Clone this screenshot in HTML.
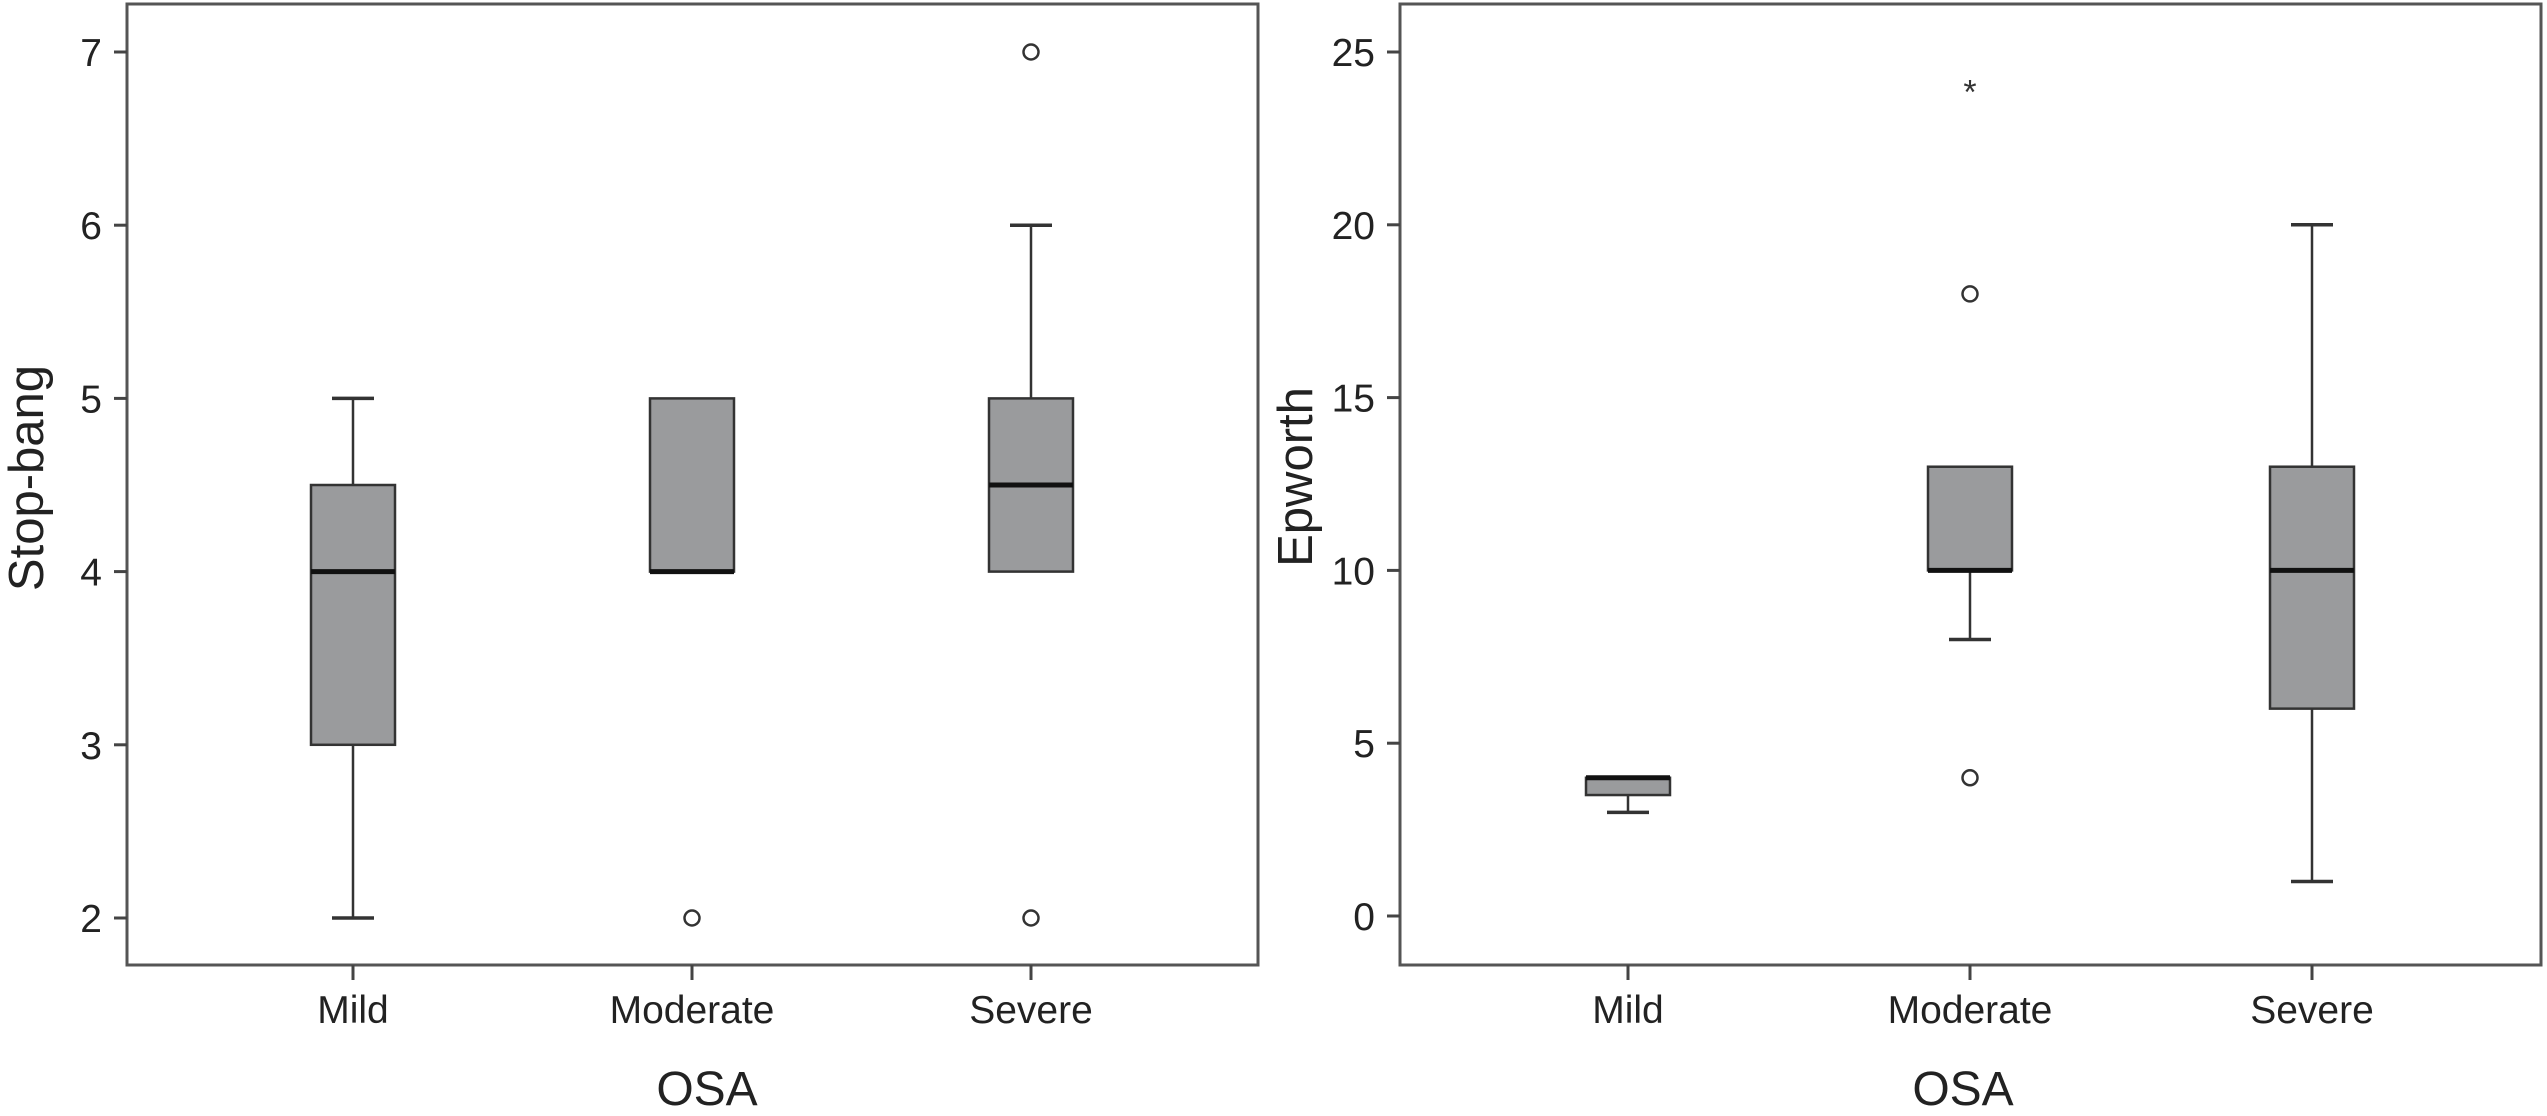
<!DOCTYPE html>
<html><head><meta charset="utf-8"><style>
html,body{margin:0;padding:0;background:#fff;}
svg{display:block;font-family:"Liberation Sans",Arial,sans-serif;}
</style></head><body>
<svg id="chart" width="2547" height="1116" viewBox="0 0 2547 1116" xmlns="http://www.w3.org/2000/svg"></svg>
<script>
const categories = ["Mild","Moderate","Severe"];
// Stop-bang: [min, q1, median, q3, max]
const stopBangStats = [[2,3,4,4.5,5],[4,4,4,5,5],[4,4,4.5,5,6]];
const stopBangOutliers = [[],[2],[7,2]];
const stopBangExtremes = [[],[],[]];
const stopBangTicks = [2,3,4,5,6,7];
// Epworth
const epworthStats = [[3,3.5,4,4,4],[8,10,10,13,13],[1,6,10,13,20]];
const epworthOutliers = [[],[18,4],[]];
const epworthExtremes = [[],[24],[]];
const epworthTicks = [0,5,10,15,20,25];

const svg = document.getElementById('chart');
const NS = "http://www.w3.org/2000/svg";
function mk(tag, attrs, parent){
  const e = document.createElementNS(NS, tag);
  for (const k in attrs) e.setAttribute(k, attrs[k]);
  (parent||svg).appendChild(e);
  return e;
}

function panel(cfg){
  const g = mk('g', {});
  
  
  const y = v => cfg.y0 + (v - cfg.v0) * (cfg.y1 - cfg.y0) / (cfg.v1 - cfg.v0);
  const x = i => cfg.cx0 + i * cfg.step;
  const frame = mk('rect', {x:cfg.left, y:4, width:cfg.right-cfg.left, height:961, fill:'none', stroke:'#555', 'stroke-width':3}, g);
  
  
  cfg.ticks.forEach(t => {
    const tk = mk('line', {x1:cfg.left-13, x2:cfg.left, y1:y(t), y2:y(t), stroke:'#444', 'stroke-width':3}, g);
    
    
    const lb = mk('text', {x:cfg.left-25, y:y(t)+14, 'text-anchor':'end', 'font-size':39, fill:'#222'}, g);
    lb.textContent = t;
    
    
  });
  categories.forEach((c, i) => {
    const tk = mk('line', {x1:x(i), x2:x(i), y1:965, y2:980, stroke:'#444', 'stroke-width':3}, g);
    
    
    const lb = mk('text', {x:x(i), y:1023, 'text-anchor':'middle', 'font-size':39, fill:'#222'}, g);
    lb.textContent = c;
    
    
    const s = cfg.stats[i];
    const bw = 84, cw = 42, cx = x(i);
    if (s[0] < s[1]) {
      const w = mk('line', {x1:cx, x2:cx, y1:y(s[0]), y2:y(s[1]), stroke:'#333', 'stroke-width':2.5}, g);
      
      
      const cap = mk('line', {x1:cx-cw/2, x2:cx+cw/2, y1:y(s[0]), y2:y(s[0]), stroke:'#333', 'stroke-width':3.5}, g);
      
      
    }
    if (s[4] > s[3]) {
      const w = mk('line', {x1:cx, x2:cx, y1:y(s[4]), y2:y(s[3]), stroke:'#333', 'stroke-width':2.5}, g);
      
      
      const cap = mk('line', {x1:cx-cw/2, x2:cx+cw/2, y1:y(s[4]), y2:y(s[4]), stroke:'#333', 'stroke-width':3.5}, g);
      
      
    }
    const box = mk('rect', {x:cx-bw/2, y:y(s[3]), width:bw, height:y(s[1])-y(s[3]), fill:'#9a9b9d', stroke:'#333', 'stroke-width':2.5}, g);
    
    
    const med = mk('line', {x1:cx-bw/2, x2:cx+bw/2, y1:y(s[2]), y2:y(s[2]), stroke:'#111', 'stroke-width':5}, g);
    
    
    cfg.outliers[i].forEach(v => {
      const o = mk('circle', {cx:cx, cy:y(v), r:7.5, fill:'#fff', stroke:'#333', 'stroke-width':2.5}, g);
      
      
    });
    cfg.extremes[i].forEach(v => {
      const o = mk('text', {x:cx, y:y(v)+17, 'text-anchor':'middle', 'font-size':34, fill:'#333'}, g);
      o.textContent = '*';
      
      
    });
  });
  const yt = mk('text', {x:0, y:0, 'text-anchor':'middle', 'font-size':49, fill:'#222', transform:`translate(${cfg.ytX},${cfg.ytY}) rotate(-90)`}, g);
  yt.textContent = cfg.ytitle;
  
  
  const xt = mk('text', {x:cfg.xtX, y:1105, 'text-anchor':'middle', 'font-size':48, fill:'#222'}, g);
  xt.textContent = 'OSA';
  
  
}

panel({name:'stop-bang-panel', left:127, right:1258, v0:2, v1:7, y0:918, y1:52, cx0:353, step:339,
  ticks:stopBangTicks, stats:stopBangStats, outliers:stopBangOutliers, extremes:stopBangExtremes,
  ytitle:'Stop-bang', ytX:43, ytY:478, xtX:707});
panel({name:'epworth-panel', left:1400, right:2541, v0:0, v1:25, y0:916, y1:52, cx0:1628, step:342,
  ticks:epworthTicks, stats:epworthStats, outliers:epworthOutliers, extremes:epworthExtremes,
  ytitle:'Epworth', ytX:1312, ytY:477, xtX:1963});
</script>
</body></html>
